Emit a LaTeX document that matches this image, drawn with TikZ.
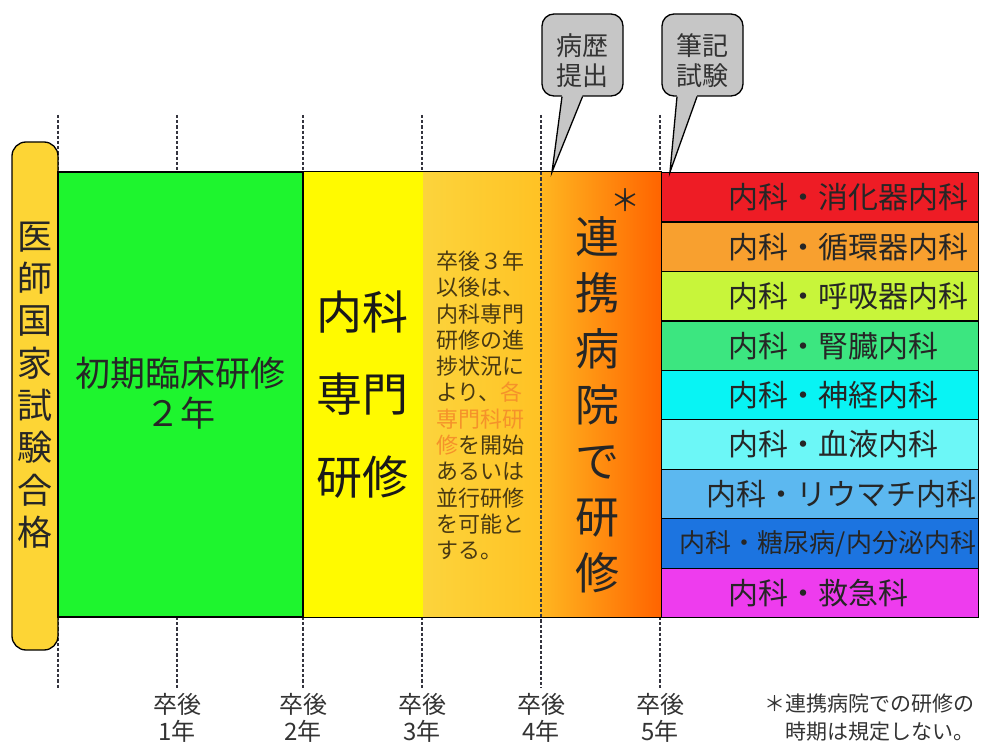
\documentclass[tikz,border=0pt]{standalone}
\usepackage{fontspec}
\setmainfont{Noto Sans CJK JP}
\usepackage{xcolor}
\usetikzlibrary{calc, positioning}

\definecolor{pillgold}{HTML}{FDD535}
\definecolor{initgreen}{HTML}{1EF52E}
\definecolor{specyellow}{HTML}{FFFA00}
\definecolor{goldA}{HTML}{FCD43C}
\definecolor{goldB}{HTML}{FFC224}
\definecolor{orangeA}{HTML}{FFB620}
\definecolor{orangeB}{HTML}{FF6400}
\definecolor{notebrown}{HTML}{4A3A12}
\definecolor{noteorange}{HTML}{F5922A}
\definecolor{bubblegray}{HTML}{C6C6C6}
\definecolor{gridgray}{HTML}{34343E}
\definecolor{stripA}{HTML}{EE1C25}
\definecolor{stripB}{HTML}{F8A02F}
\definecolor{stripC}{HTML}{C8F53A}
\definecolor{stripD}{HTML}{3CE680}
\definecolor{stripE}{HTML}{08F4F4}
\definecolor{stripF}{HTML}{6CF7F7}
\definecolor{stripG}{HTML}{5CB8F0}
\definecolor{stripH}{HTML}{1C74E0}
\definecolor{stripI}{HTML}{EE3CEE}

\tikzset{
  grid line/.style={gridgray, line width=1.8pt, dash pattern=on 3.2pt off 2pt},
  block/.style={inner sep=0pt, minimum height=445pt},
  strip/.style={draw=black, line width=1.2pt, inner sep=0pt, minimum width=317pt, minimum height=49.44pt, anchor=north west},
  striptext/.style={font=\fontsize{30}{30}\selectfont, text=black!85, inner sep=0pt},
  bubble/.style={draw=black, line width=1.3pt, fill=bubblegray, rounded corners=12pt, minimum width=81pt, minimum height=82pt},
  bubbletext/.style={align=center, font=\fontsize{26}{30}\selectfont, text=black!80},
  yearlabel/.style={align=center, font=\fontsize{24}{27}\selectfont, text=black!80}
}

\begin{document}
\begin{tikzpicture}[x=1pt, y=1pt]
  \useasboundingbox (0,0) rectangle (986,-749);

  \foreach \gx in {58,177,303,422,660} {
    \draw[grid line] (\gx,-115) -- (\gx,-172);
    \draw[grid line] (\gx,-617) -- (\gx,-688);
  }

  \node[draw=black, line width=1.3pt, fill=pillgold, rounded corners=14pt, minimum width=46pt, minimum height=508pt] (exam) at (35,-396) {};
  \node[align=center, font=\fontsize{35}{42.3}\selectfont, text=black!85] (exam text) at (35,-385) {医\\師\\国\\家\\試\\験\\合\\格};

  \node[block, fill=specyellow, minimum width=120pt] (special) at (363,-394.5) {};
  \node[block, left color=goldA, right color=goldB, minimum width=118pt] (parallel) at (482,-394.5) {};
  \node[block, left color=orangeA, right color=orangeB, minimum width=120pt] (linked) at (601,-394.5) {};
  \draw[line width=1.2pt] (special.north west) rectangle (linked.south east);
  \node[block, draw=black, line width=1.2pt, fill=initgreen, minimum width=245pt] (initial) at (180.5,-394.5) {};

  \foreach \col [count=\i] in {stripA,stripB,stripC,stripD,stripE,stripF,stripG,stripH,stripI}
    \node[strip, fill=\col] (strip\i) at (661,{-172-(\i-1)*49.44}) {};

  \node[striptext, anchor=west] (dept1) at ($(strip1.west)+(67,0)$) {内科・消化器内科};
  \node[striptext, anchor=west] (dept2) at ($(strip2.west)+(67,0)$) {内科・循環器内科};
  \node[striptext, anchor=west] (dept3) at ($(strip3.west)+(67,0)$) {内科・呼吸器内科};
  \node[striptext, anchor=west] (dept4) at ($(strip4.west)+(67,0)$) {内科・腎臓内科};
  \node[striptext, anchor=west] (dept5) at ($(strip5.west)+(67,0)$) {内科・神経内科};
  \node[striptext, anchor=west] (dept6) at ($(strip6.west)+(67,0)$) {内科・血液内科};
  \node[striptext, anchor=east] (dept7) at ($(strip7.east)+(-3,0)$) {内科・リウマチ内科};
  \node[striptext, anchor=east, font=\fontsize{26}{26}\selectfont] (dept8) at ($(strip8.east)+(-3,0)$) {内科・糖尿病/内分泌内科};
  \node[striptext, anchor=west] (dept9) at ($(strip9.west)+(67,0)$) {内科・救急科};

  \draw[grid line] (541,-115) -- (541,-688);

  \node[align=center, font=\fontsize{35}{40}\selectfont, text=black!85] (initial text) at (180,-393) {初期臨床研修\\２年};
  \node[align=center, font=\fontsize{46}{82.5}\selectfont, text=black!90] (special text) at (362.5,-394.5) {内科\\専門\\研修};
  \node[align=left, anchor=west, inner sep=0pt, font=\fontsize{22}{26.3}\selectfont, text=notebrown] (parallel text) at (436,-405.5)
    {卒後３年\\以後は、\\内科専門\\研修の進\\捗状況に\\より、\textcolor{noteorange}{各}\\\textcolor{noteorange}{専門科研}\\\textcolor{noteorange}{修}を開始\\あるいは\\並行研修\\を可能と\\する。};
  \node[align=center, font=\fontsize{44}{56}\selectfont, text=black!85] (linked text) at (597,-404.5) {連\\携\\病\\院\\で\\研\\修};
  \node[font=\fontsize{30}{30}\selectfont, text=black!85] (linked mark) at (625,-200) {＊};

  \node[bubble] (history) at (582.5,-55) {};
  \node[bubbletext] (history text) at ($(history.center)+(0,-6)$) {病歴\\提出};
  \coordinate (history tip) at (552,-172);
  \fill[bubblegray] ($(history.south)+(-20.5,1.5)$) -- (history tip) -- ($(history.south)+(0,1.5)$) -- cycle;
  \draw[line width=1.3pt] ($(history.south)+(-20.5,0)$) -- (history tip) -- (history.south);

  \node[bubble] (written) at (702.5,-55) {};
  \node[bubbletext] (written text) at ($(written.center)+(0,-6)$) {筆記\\試験};
  \coordinate (written tip) at (670,-172);
  \fill[bubblegray] ($(written.south)+(-25.5,1.5)$) -- (written tip) -- ($(written.south)+(-5.5,1.5)$) -- cycle;
  \draw[line width=1.3pt] ($(written.south)+(-25.5,0)$) -- (written tip) -- ($(written.south)+(-5.5,0)$);

  \foreach \yr/\gx in {1/177,2/303,3/422,4/541,5/660}
    \node[yearlabel] (year\yr) at (\gx,-718) {卒後\\\yr{}年};

  \node[align=right, anchor=east, inner sep=0pt, font=\fontsize{21}{28}\selectfont, text=black!80] (footnote) at (975,-718) {＊連携病院での研修の\\時期は規定しない。};
\end{tikzpicture}
\end{document}
